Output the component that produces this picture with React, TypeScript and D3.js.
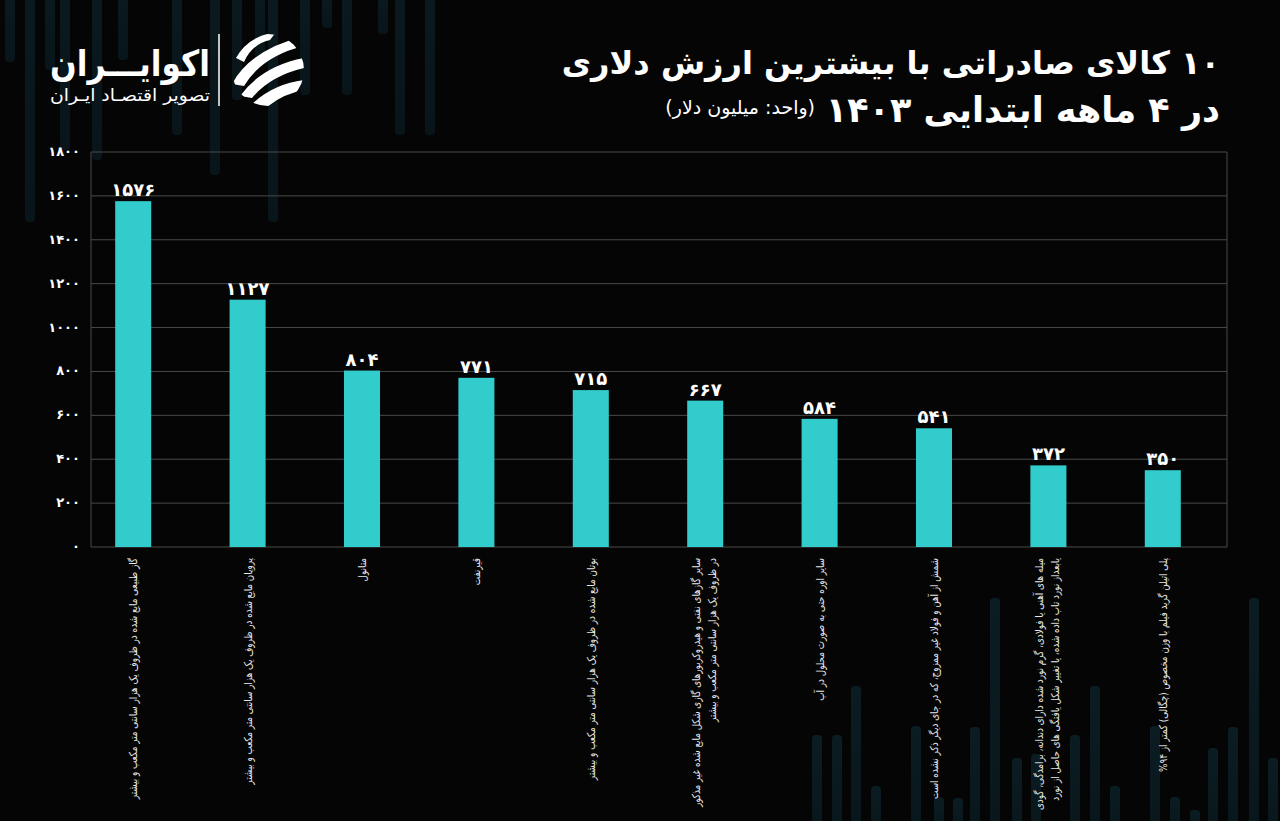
import React from "react";
import * as d3 from "d3";

// ---- data ----
const categories = [
  ["گاز طبیعی مایع شده در ظروف یک هزار سانتی متر مکعب و بیشتر"],
  ["پروپان مایع شده در ظروف یک هزار سانتی متر مکعب و بیشتر"],
  ["متانول"],
  ["قیرنفت"],
  ["بوتان مایع شده در ظروف یک هزار سانتی متر مکعب و بیشتر"],
  [
    "سایر گازهای نفتی و هیدروکربورهای گازی شکل مایع شده غیر مذکور",
    "در ظروف یک هزار سانتی متر مکعب و بیشتر",
  ],
  ["سایر اوره حتی به صورت محلول در آب"],
  ["شمش از آهن و فولاد غیر ممزوج، که در جای دیگر ذکر نشده است"],
  [
    "میله های آهنی یا فولادی، گرم نورد شده دارای دندانه، برامدگی، گودی",
    "یابعداز نورد تاب داده شده، یا تغییر شکل یافتگی های حاصل از نورد",
  ],
  ["پلی اتیلن گرید فیلم با وزن مخصوص (چگالی) کمتر از ۹۴%"],
];
const values = [1576, 1127, 804, 771, 715, 667, 584, 541, 372, 350];
const yTicks = [0, 200, 400, 600, 800, 1000, 1200, 1400, 1600, 1800];

const titleLine1 = "۱۰ کالای صادراتی با بیشترین ارزش دلاری";
const titleLine2 = "در ۴ ماهه ابتدایی ۱۴۰۳";
const unitText = "(واحد: میلیون دلار)";

// decorative background stripes (purely ornamental)
const decoTop = [
  [5, 62], [25, 222], [45, 70], [60, 150], [92, 160], [118, 60], [172, 135],
  [210, 175], [232, 100], [255, 58], [268, 222], [300, 95], [322, 28],
  [342, 95], [378, 34], [395, 135], [425, 135],
];
const decoBottom = [
  [812, 735], [832, 735], [851, 686], [871, 786], [911, 726], [934, 797],
  [953, 798], [970, 727], [990, 598], [1012, 758], [1031, 754], [1070, 735],
  [1090, 686], [1110, 786], [1150, 726], [1170, 797], [1190, 810],
  [1208, 748], [1228, 727], [1249, 598], [1268, 758],
];

const W = 1280;
const H = 821;
const FONT = "'DejaVu Sans', sans-serif";
const BAR = "#33cccc";

const fa = (n: number | string) =>
  String(n).replace(/[0-9]/g, (c) => "۰۱۲۳۴۵۶۷۸۹"[+c]);

export default function App() {
  const plotLeft = 91;
  const plotRight = 1227;
  const y = d3.scaleLinear().domain([0, 1800]).range([547, 152]);
  const x = d3
    .scaleBand<number>()
    .domain(d3.range(values.length))
    .range([76, 1220])
    .paddingInner(0.685)
    .paddingOuter(0.3425);

  return (
    <svg
      width={W}
      height={H}
      style={{ position: "fixed", left: 0, top: 0, background: "#050505" }}
    >
      <rect width={W} height={H} fill="#050505" />
      <defs>
        <linearGradient id="decoG" x1="0" y1="0" x2="0" y2="1">
          <stop offset="0" stopColor="#0c252d" />
          <stop offset="1" stopColor="#0a1d24" />
        </linearGradient>
        <clipPath id="logoClip">
          <circle cx={268} cy={70} r={36} />
        </clipPath>
      </defs>

      {/* ornaments */}
      {decoTop.map(([dx, h], i) => (
        <rect key={"t" + i} x={dx} y={-4} width={10} height={h + 4} rx={4} fill="url(#decoG)" opacity={0.65} />
      ))}
      {decoBottom.map(([dx, top], i) => (
        <rect key={"b" + i} x={dx} y={top} width={10} height={H - top + 4} rx={4} fill="url(#decoG)" opacity={0.75} />
      ))}

      {/* logo */}
      <g fontFamily={FONT} fill="#fff" direction="rtl">
        <text x={210} y={76} textAnchor="start" fontSize={36} fontWeight="bold" textLength={160} lengthAdjust="spacingAndGlyphs">
          اکوایـــران
        </text>
        <text x={210} y={101} textAnchor="start" fontSize={17} textLength={160} lengthAdjust="spacingAndGlyphs">
          تصویر اقتصـاد ایـران
        </text>
        <line x1={219} x2={219} y1={34} y2={106} stroke="#fff" strokeWidth={1.5} />
        <g clipPath="url(#logoClip)">
          <path d="M232,84 Q250,50 304,36 L304,46 Q262,56 244,86 Z" />
          <path d="M240,96 Q262,66 304,58 L304,68 Q270,76 252,98 Z" />
          <path d="M250,106 Q272,84 304,80 L304,90 Q282,94 266,108 Z" />
          <path d="M236,58 Q248,36 276,32 L270,40 Q252,44 244,62 Z" />
        </g>
      </g>

      {/* title */}
      <g fontFamily={FONT} fill="#fff" fontWeight="bold" direction="rtl">
        <text x={1220} y={74} textAnchor="start" fontSize={32}>
          {titleLine1}
        </text>
        <text x={1220} y={122} textAnchor="start" fontSize={35}>
          {titleLine2}
        </text>
        <text x={815} y={114} textAnchor="start" fontSize={19} fontWeight="normal">
          {unitText}
        </text>
      </g>

      {/* grid */}
      <g stroke="#4a4a4a" strokeWidth={1}>
        {yTicks.map((t) => (
          <line key={t} x1={plotLeft} x2={plotRight} y1={y(t)} y2={y(t)} />
        ))}
        <line x1={plotLeft} x2={plotLeft} y1={y(1800)} y2={y(0)} />
        <line x1={plotRight} x2={plotRight} y1={y(1800)} y2={y(0)} />
      </g>
      <g fontFamily={FONT} fill="#fff" fontSize={13} fontWeight="bold">
        {yTicks.map((t) => (
          <text key={t} x={80} y={y(t) + 4} textAnchor="end">
            {fa(t)}
          </text>
        ))}
      </g>

      {/* bars */}
      {values.map((v, i) => (
        <rect key={i} x={x(i)} y={y(v)} width={x.bandwidth()} height={y(0) - y(v)} fill={BAR} />
      ))}
      <g fontFamily={FONT} fill="#fff" fontSize={18} fontWeight="bold">
        {values.map((v, i) => (
          <text key={i} x={(x(i) as number) + x.bandwidth() / 2} y={y(v) - 5} textAnchor="middle">
            {fa(v)}
          </text>
        ))}
      </g>

      {/* category labels */}
      <g fontFamily={FONT} fill="#e8e8e8" fontSize={11} direction="rtl">
        {categories.map((lines, i) => {
          const cx = (x(i) as number) + x.bandwidth() / 2;
          const top = 558;
          const offs = lines.length === 1 ? [4] : [-5, 11];
          return lines.map((ln, j) => (
            <text
              key={i + "-" + j}
              x={0}
              y={0}
              textAnchor="start"
              transform={`translate(${cx + offs[j]}, ${top}) rotate(-90) scale(0.8, 1)`}
            >
              {ln}
            </text>
          ));
        })}
      </g>
    </svg>
  );
}
